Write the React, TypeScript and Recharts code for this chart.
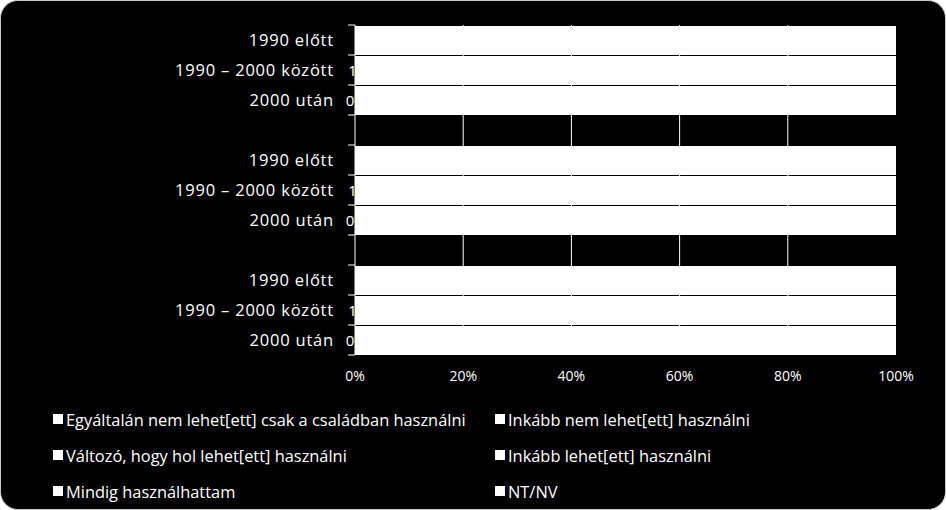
import { BarChart, Bar, XAxis, YAxis, CartesianGrid, LabelList } from 'recharts';

// row labels, top to bottom; empty strings are the spacer rows between the three blocks
const categories = [
  '1990 előtt',
  '1990 – 2000 között',
  '2000 után',
  '',
  '1990 előtt',
  '1990 – 2000 között',
  '2000 után',
  '',
  '1990 előtt',
  '1990 – 2000 között',
  '2000 után',
];

const seriesNames = [
  'Egyáltalán nem lehet[ett] csak a családban használni',
  'Inkább nem lehet[ett] használni',
  'Változó, hogy hol lehet[ett] használni',
  'Inkább lehet[ett] használni',
  'Mindig használhattam',
  'NT/NV',
];

// percentages per row (null = spacer row)
const egyaltalanNem = [0, 1.4, 0.45, null, 0, 1.4, 0.45, null, 0, 1.4, 0.45];
const inkabbNem = [3, 3.6, 2.55, null, 6, 6.6, 4.55, null, 10, 10.6, 7.55];
const valtozo = [12, 15, 10, null, 20, 22, 18, null, 28, 30, 25];
const inkabbLehet = [25, 27, 22, null, 30, 28, 30, null, 27, 26, 30];
const mindig = [57, 50, 63, null, 40, 38, 45, null, 30, 28, 34];
const ntnv = [3, 3, 2, null, 4, 4, 2, null, 5, 4, 3];

const xTicks = [0, 20, 40, 60, 80, 100];

const seriesValues = [egyaltalanNem, inkabbNem, valtozo, inkabbLehet, mindig, ntnv];
const keys = seriesValues.map((_, i) => `s${i}`);

const data = categories.map((name, i) => {
  const row: Record<string, string | number | null> = { name };
  seriesValues.forEach((vals, s) => {
    row[keys[s]] = vals[i];
  });
  return row;
});

const W = 946;
const H = 510;
const MARGIN = { top: 25, right: 50, bottom: 125, left: 0 };
const X_AXIS_H = 30;
const PLOT_H = H - MARGIN.top - MARGIN.bottom - X_AXIS_H;
const FONT = "'Open Sans', sans-serif";

function CategoryTick(props: any) {
  const { x, y, payload, index } = props;
  const half = PLOT_H / categories.length / 2;
  return (
    <g>
      <line x1={x} x2={x + 7} y1={y - half} y2={y - half} stroke="#fff" strokeWidth={1} />
      {index === categories.length - 1 && (
        <line x1={x} x2={x + 7} y1={y + half} y2={y + half} stroke="#fff" strokeWidth={1} />
      )}
      <text
        x={x - 14}
        y={y}
        dy="0.35em"
        textAnchor="end"
        fill="#fff"
        fontSize={16.5}
        letterSpacing={0.8}
        fontFamily={FONT}
      >
        {payload.value}
      </text>
    </g>
  );
}

export default function App() {
  return (
    <div style={{ position: 'absolute', left: 0, top: 0, width: W, height: H, background: '#fff' }}>
      <div
        style={{
          position: 'absolute',
          left: 0,
          top: 0,
          width: W,
          height: H,
          boxSizing: 'border-box',
          background: '#000',
          border: '1.5px solid #c8c8c8',
          borderRadius: 18,
        }}
      />
      <div style={{ position: 'absolute', left: 0, top: 0 }}>
        <BarChart
          width={W}
          height={H}
          data={data}
          layout="vertical"
          margin={MARGIN}
          barCategoryGap={0.75}
        >
          <CartesianGrid
            horizontal={false}
            stroke="#fff"
            strokeWidth={1}
            verticalValues={[20, 40, 60, 80]}
          />
          <XAxis
            type="number"
            domain={[0, 100]}
            ticks={xTicks}
            tickFormatter={(v: number) => `${v}%`}
            axisLine={false}
            tickLine={false}
            tickSize={0}
            tickMargin={16}
            height={X_AXIS_H}
            tick={{ fill: '#fff', fontSize: 14, fontFamily: FONT }}
          />
          <YAxis
            type="category"
            dataKey="name"
            width={355}
            interval={0}
            tickLine={false}
            tickSize={7}
            tickMargin={0}
            axisLine={{ stroke: '#fff' }}
            tick={<CategoryTick />}
          />
          {keys.map((k, i) => (
            <Bar
              key={k}
              dataKey={k}
              name={seriesNames[i]}
              stackId="a"
              fill="#fff"
              shapeRendering="crispEdges"
              isAnimationActive={false}
            >
              {i === 0 && (
                <LabelList
                  dataKey={k}
                  position="center"
                  fill="#fff"
                  fontSize={15}
                  fontFamily={FONT}
                  formatter={(v: any) => (v ? `${Math.round(v)}%` : '')}
                />
              )}
            </Bar>
          ))}
        </BarChart>
      </div>
      <div
        style={{
          position: 'absolute',
          left: 53,
          top: 407,
          display: 'grid',
          gridTemplateColumns: '442px 400px',
          rowGap: 12,
          fontFamily: FONT,
          fontSize: 16.4,
          color: '#fff',
        }}
      >
        {seriesNames.map((n) => (
          <div key={n} style={{ display: 'flex', alignItems: 'center', height: 24, whiteSpace: 'nowrap' }}>
            <span style={{ width: 10, height: 10, background: '#fff', marginRight: 3, flexShrink: 0 }} />
            <span>{n}</span>
          </div>
        ))}
      </div>
    </div>
  );
}
